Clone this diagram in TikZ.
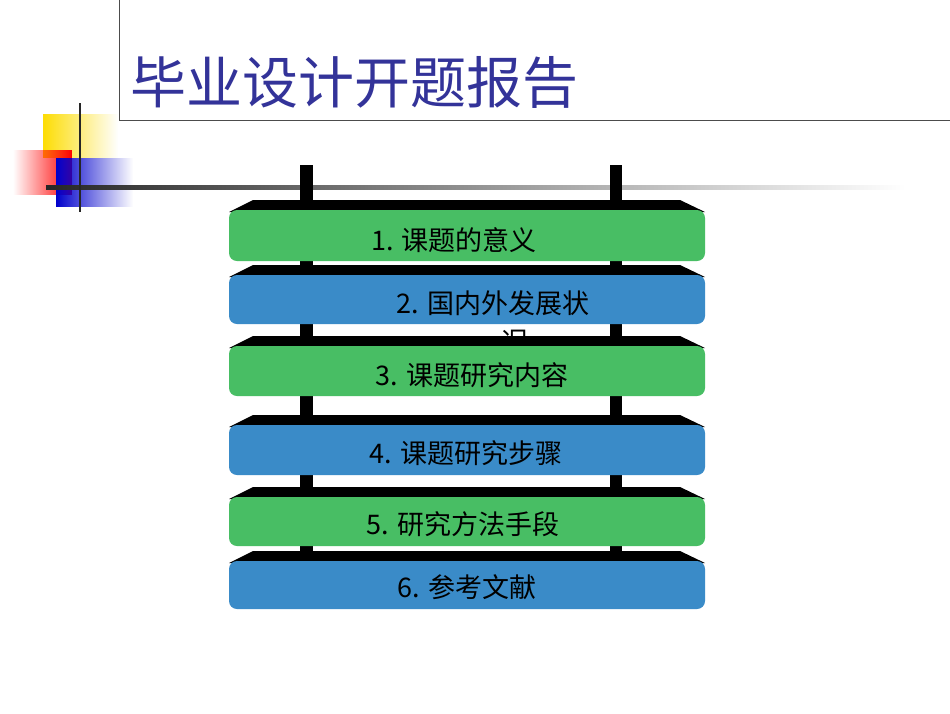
\documentclass[tikz,border=0pt]{standalone}
\usepackage{fontspec}
\newfontfamily\cjk{Noto Sans CJK SC}
\usetikzlibrary{fadings}
\definecolor{sgreen}{RGB}{72,190,100}
\definecolor{sblue}{RGB}{58,139,200}
\definecolor{tblue}{RGB}{51,51,153}
\tikzset{lbl/.style={font=\cjk\fontsize{27}{30}\selectfont, text=black, inner sep=0pt}}
\newcommand{\slab}[4]{% top y, bottom y, color, name
  \fill[black] (229,#1+12) -- (253,#1) -- (680,#1) -- (705,#1+12) -- cycle;
  \fill[#3,rounded corners=8] (229,#1+10) rectangle (705,#2);
  \coordinate (#4) at (467,{(#1+12+#2)/2});
}
\begin{document}
\begin{tikzpicture}[x=1pt,y=-1pt]
\useasboundingbox (0,0) rectangle (950,713);
\fill[white] (0,0) rectangle (950,713);
% title frame
\draw[gray!60!black, line width=0.8] (119,-2) -- (119,120) -- (952,120);
\node[font=\cjk\fontsize{56}{60}\selectfont, text=tblue, anchor=west, inner sep=0pt] (title) at (130,82) {毕业设计开题报告};
% decoration
\fill[yellow!80!orange, path fading=east] (43,114) rectangle (118,158);
\fill[red, path fading=west] (13,150) rectangle (72,195);
\fill[blue!80!black, path fading=east] (56,158) rectangle (133,207);
\fill[red!60!orange, opacity=0.0] (0,0) rectangle (1,1);
\shade[left color=black!85, right color=white] (46,185.5) rectangle (905,189);
\draw[black!85, line width=2] (80,103) -- (80,212);
% posts
\fill[black] (300,165) rectangle (313,560);
\fill[black] (610,165) rectangle (622,560);
\slab{200}{261}{sgreen}{s1}
\node[lbl] (t1) at (454,240) {1. 课题的意义};
\slab{265}{324}{sblue}{s2}
\node[lbl] (t2) at (493,303) {2. 国内外发展状};
\node[lbl] (t2b) at (515,342) {况};
\slab{336}{396}{sgreen}{s3}
\node[lbl] (t3) at (472,375) {3. 课题研究内容};
\slab{415}{475}{sblue}{s4}
\node[lbl] (t4) at (466,453) {4. 课题研究步骤};
\slab{487}{546}{sgreen}{s5}
\node[lbl] (t5) at (463,524) {5. 研究方法手段};
\slab{551}{609}{sblue}{s6}
\node[lbl] (t6) at (467,587) {6. 参考文献};
\end{tikzpicture}
\end{document}
